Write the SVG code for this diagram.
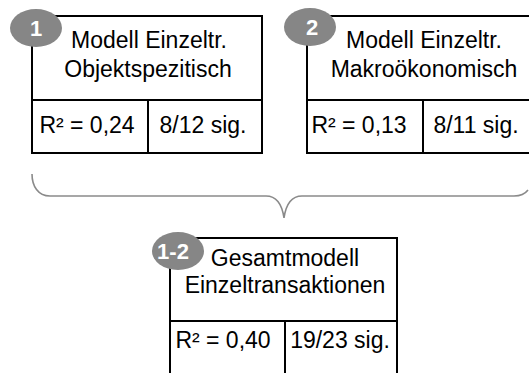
<svg xmlns="http://www.w3.org/2000/svg" width="529" height="373" viewBox="0 0 529 373">
<style>
.box{fill:#fff;stroke:#000;stroke-width:2}
.ln{stroke:#000;stroke-width:2}
.t{font-family:"Liberation Sans",Arial,sans-serif;font-size:23px;fill:#000;text-anchor:middle}
.badge{fill:#868686}
.bt{font-family:"Liberation Sans",Arial,sans-serif;font-size:22px;font-weight:bold;fill:#fff;text-anchor:middle}
.brace{fill:none;stroke:#8a8a8a;stroke-width:1.6}
</style>
<rect width="529" height="373" fill="#fff"/>
<g id="connectors">
<path class="brace" d="M32,174 C32,186 38,196 50,196 L266,196 C276,196 282,204 284,218 C286,204 292,196 302,196 L514,196 C521,196 525,194 528,190"/>
</g>
<g id="node1">
<rect class="box" x="32" y="16" width="230" height="137"/>
<line class="ln" x1="32" y1="100" x2="262" y2="100"/>
<line class="ln" x1="148" y1="100" x2="148" y2="153"/>
<text class="t" x="149" y="48">Modell Einzeltr.</text>
<text class="t" x="148" y="77">Objektspezitisch</text>
<text class="t" x="87" y="133">R² = 0,24</text>
<text class="t" x="203" y="133">8/12 sig.</text>
<ellipse class="badge" cx="36" cy="28" rx="26" ry="19"/>
<text class="bt" x="36" y="36">1</text>
</g>
<g id="node2">
<rect class="box" x="307" y="16" width="234" height="137"/>
<line class="ln" x1="307" y1="100" x2="541" y2="100"/>
<line class="ln" x1="423" y1="100" x2="423" y2="153"/>
<text class="t" x="424" y="48">Modell Einzeltr.</text>
<text class="t" x="424" y="77">Makroökonomisch</text>
<text class="t" x="359" y="133">R² = 0,13</text>
<text class="t" x="476" y="133">8/11 sig.</text>
<ellipse class="badge" cx="310" cy="27" rx="26" ry="19"/>
<text class="bt" x="312" y="35">2</text>
</g>
<g id="node3">
<rect class="box" x="170" y="238" width="227" height="150"/>
<line class="ln" x1="170" y1="321" x2="397" y2="321"/>
<line class="ln" x1="285" y1="321" x2="285" y2="388"/>
<text class="t" x="285" y="266">Gesamtmodell</text>
<text class="t" x="285" y="293">Einzeltransaktionen</text>
<text class="t" x="223" y="348">R² = 0,40</text>
<text class="t" x="340" y="348">19/23 sig.</text>
<ellipse class="badge" cx="178" cy="251" rx="26" ry="19"/>
<text class="bt" x="173" y="259">1-2</text>
</g>
</svg>
